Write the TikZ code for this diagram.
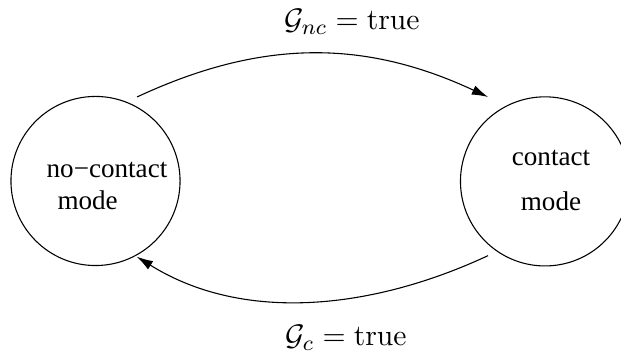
\documentclass[tikz,border=0pt]{standalone}
\usepackage[no-math]{fontspec}
\setmainfont{Liberation Serif}
\usepackage{amsmath}
\usetikzlibrary{
  positioning,
  arrows.meta
}

\begin{document}
\begin{tikzpicture}[
    x=0.369pt, y=0.369pt,
    >={Latex[length=6pt,width=3.6pt]},
    % Mode circles
    mode/.style={
        circle, draw=black, thin, minimum size=62.4pt, inner sep=0pt
    },
    modetext/.style={inner sep=0pt},
    % Guard labels
    guard/.style={inner sep=0pt, font=\fontsize{11}{13}\selectfont},
    % Arrow style
    arr/.style={->, thin, draw=black}
]

% ==========================================
% FRAME
% ==========================================
\clip (0,0) rectangle (621,356);

% ==========================================
% MODES
% ==========================================
\node[mode] (nc) at (95.5,175) {};
\node[mode] (c) at (545,174.6) {};

\node[modetext, align=left] (nctext) at ([shift={(11.5,-5)}]nc.center)
    {no−contact\\\hspace*{4pt}mode};
\node[modetext, align=center] (ctext) at ([shift={(6,1)}]c.center)
    {contact\\[4.6pt]mode};

% ==========================================
% SWITCHING
% ==========================================
\coordinate (nc-out) at ([shift={(63.7:93.7)}]nc.center);
\coordinate (c-in) at ([shift={(124:101.8)}]c.center);
\coordinate (c-out) at ([shift={(232.5:93.6)}]c.center);
\coordinate (nc-in) at ([shift={(-61.4:86.2)}]nc.center);

\draw[arr] (nc-out) to[out=25, in=155] (c-in);
\draw[arr] (c-out) to[out=205, in=-32, looseness=0.92] (nc-in);

\node[guard] (gnc) at (352,334) {$\mathcal{G}_{nc} = \mathrm{true}$};
\node[guard] (gc) at (346,18) {$\mathcal{G}_{c} = \mathrm{true}$};

\end{tikzpicture}
\end{document}
